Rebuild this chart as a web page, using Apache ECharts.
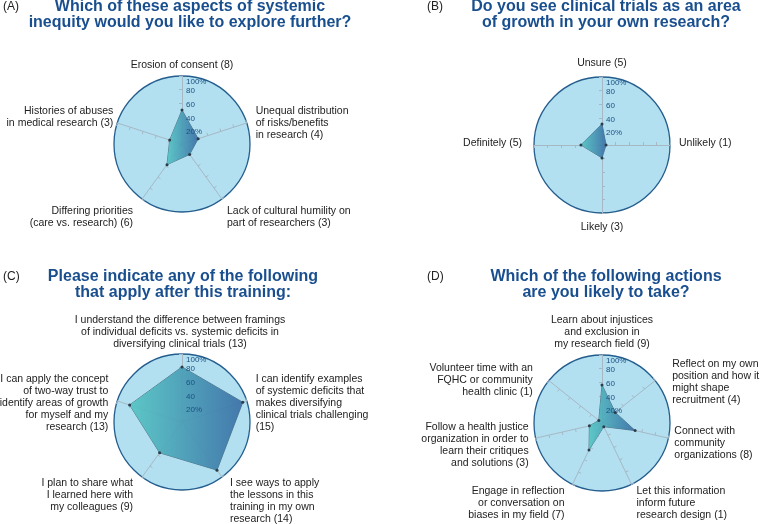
<!DOCTYPE html>
<html><head><meta charset="utf-8">
<script src="https://cdn.jsdelivr.net/npm/echarts@6/dist/echarts.min.js"></script>
<style>html,body{margin:0;padding:0;background:#fff}#c{width:760px;height:524px}</style>
</head><body><div id="c"></div>
<script>
// Panel titles
const panelTags = ['(A)', '(B)', '(C)', '(D)'];
const titles = [
  'Which of these aspects of systemic\ninequity would you like to explore further?',
  'Do you see clinical trials as an area\nof growth in your own research?',
  'Please indicate any of the following\nthat apply after this training:',
  'Which of the following actions\nare you likely to take?'
];
// Indicators listed from top, going counter-clockwise (ECharts order); values in % of respondents
const namesA = ['Erosion of consent (8)', 'Histories of abuses\nin medical research (3)', 'Differing priorities\n(care vs. research) (6)', 'Lack of cultural humility on\npart of researchers (3)', 'Unequal distribution\nof risks/benefits\nin research (4)'];
const valuesA = [50, 19, 37.5, 19, 25];
const namesB = ['Unsure (5)', 'Definitely (5)', 'Likely (3)', 'Unlikely (1)'];
const valuesB = [31, 31, 19, 6];
const namesC = ['I understand the difference between framings\nof individual deficits vs. systemic deficits in\ndiversifying clinical trials (13)', 'I can apply the concept\nof two-way trust to\nidentify areas of growth\nfor myself and my\nresearch (13)', 'I plan to share what\nI learned here with\nmy colleagues (9)', 'I see ways to apply\nthe lessons in this\ntraining in my own\nresearch (14)', 'I can identify examples\nof systemic deficits that\nmakes diversifying\nclinical trials challenging\n(15)'];
const valuesC = [81, 81, 56, 87.5, 94];
const namesD = ['Learn about injustices\nand exclusion in\nmy research field (9)', 'Volunteer time with an\nFQHC or community\nhealth clinic (1)', 'Follow a health justice\norganization in order to\nlearn their critiques\nand solutions (3)', 'Engage in reflection\nor conversation on\nbiases in my field (7)', 'Let this information\ninform future\nresearch design (1)', 'Connect with\ncommunity\norganizations (8)', 'Reflect on my own\nposition and how it\nmight shape\nrecruitment (4)'];
const valuesD = [56, 6, 19, 44, 6, 50, 25];
const tickLabels = {20: '20%', 40: '40', 60: '60', 80: '80'};
const maxTickLabel = '100%';

// ---- layout / style (not data) ----
const FONT = 'Liberation Sans, Arial, sans-serif';
const NAME_COLOR = '#222';
const TICK_COLOR = '#1d4f82';
// label placement per indicator: [align, verticalAlign, padding, vertical shift (px, for middle-aligned)]
const L = (a, v, p, s) => ({align: a, verticalAlign: v, padding: p, shift: s || 0});
const labelLayouts = [
  [L('center','bottom',[0,0,5,0]), L('right','middle',[0,4,0,0],-6), L('right','top',[6,9,0,0]), L('left','top',[6,0,0,5]), L('left','middle',[0,0,0,9],0)],
  [L('center','bottom',[0,0,8,0]), L('right','middle',[0,12,0,0],-2), L('center','top',[8,0,0,0]), L('left','middle',[0,0,0,9],-2)],
  [L('center','bottom',[0,4,4,0]), L('right','middle',[0,9,0,0],2.5), L('right','top',[0,9,0,0]), L('left','top',[0,0,0,8]), L('left','middle',[0,0,0,9],2.5)],
  [L('center','bottom',[0,0,5,0]), L('right','middle',[0,16,0,0],0), L('right','middle',[0,7,0,0],6.5), L('right','top',[1,8,0,0]), L('left','top',[1,0,0,5]), L('left','middle',[0,0,0,6],4.5), L('left','middle',[0,0,0,17],2)]
];
const panels = [
  {names: namesA, values: valuesA, center: [182, 144], title: [190, -1], tag: [3, 1]},
  {names: namesB, values: valuesB, center: [602, 145], title: [606, -1], tag: [427, 1]},
  {names: namesC, values: valuesC, center: [182, 422], title: [183, 269], tag: [3, 271]},
  {names: namesD, values: valuesD, center: [602, 423], title: [606, 269], tag: [427, 271]}
];

// rich styles: body line + spacer lines of various heights
const rich = {n: {color: NAME_COLOR, fontFamily: FONT, fontSize: 10.5, lineHeight: 12},
  t: {color: TICK_COLOR, fontFamily: FONT, fontSize: 8, lineHeight: 9}};
for (let k = 1; k <= 30; k++) rich['s' + k] = {fontSize: 1, lineHeight: k};

function nameFormatter(name, ind) {
  const s = Math.round(2 * (ind.shift || 0));
  if (!s) return name;
  const body = name.split('\n').map(l => '{n|' + l + '}').join('\n');
  return s > 0 ? '{s' + s + '| }\n' + body : body + '\n{s' + (-s) + '| }';
}
function tickFormatter(v) {
  const txt = tickLabels[v];
  return txt ? '{s3| }\n{t|' + txt + '}' : '';
}

const radars = [];
panels.forEach((p, pi) => {
  radars.push({
    center: p.center, radius: 68, shape: 'circle', splitNumber: 5, startAngle: 90, z: 0,
    indicator: p.names.map((n, i) => {
      const lay = labelLayouts[pi][i];
      return {name: n, max: 100, min: 0, shift: lay.shift,
        nameTextStyle: {align: lay.align, verticalAlign: lay.verticalAlign, padding: lay.padding}};
    }),
    axisName: {color: NAME_COLOR, fontFamily: FONT, fontSize: 10.5, lineHeight: 12, rich, formatter: nameFormatter},
    nameGap: 0,
    splitArea: {show: true, areaStyle: {color: ['#b2e0f1']}},
    splitLine: {show: true, lineStyle: {color: ['rgba(0,0,0,0)', 'rgba(0,0,0,0)', 'rgba(0,0,0,0)', 'rgba(0,0,0,0)', 'rgba(0,0,0,0)', '#235d8e'], width: 1.3}},
    axisLine: {show: true, lineStyle: {color: '#a6b8c4', width: 1}},
    axisTick: {show: true, length: 3, lineStyle: {color: '#a6b8c4'}},
    axisLabel: {show: false}
  });
});
// overlay radars carrying the percentage tick labels above the data polygons
function overlay(p, labelOpt) {
  return {
    center: p.center, radius: 68, shape: 'circle', splitNumber: 5, startAngle: 90, z: 10,
    indicator: p.names.map((n, i) => i === 0
      ? {name: '', max: 100, min: 0, axisLabel: {show: true}}
      : {name: '', max: 100, min: 0}),
    axisName: {show: false},
    splitArea: {show: false}, splitLine: {show: false}, axisLine: {show: false}, axisTick: {show: false},
    axisLabel: Object.assign({show: false, showMinLabel: false, hideOverlap: false, color: TICK_COLOR,
      fontFamily: FONT, fontSize: 8, margin: -4, align: 'left', rich}, labelOpt)
  };
}
panels.forEach((p) => {
  radars.push(overlay(p, {showMaxLabel: false, formatter: tickFormatter}));
  radars.push(overlay(p, {showMaxLabel: true, verticalAlign: 'top', padding: [2, 0, 0, 0],
    formatter: v => v === 100 ? maxTickLabel : ''}));
});

const grad = {type: 'linear', x: 0, y: 0, x2: 1, y2: 0,
  colorStops: [{offset: 0, color: '#55c5c3'}, {offset: 1, color: '#3a6fa6'}]};

const series = panels.map((p, i) => ({
  type: 'radar', radarIndex: i, silent: true,
  symbol: 'circle', symbolSize: 3,
  itemStyle: {color: '#2b3d4a'},
  lineStyle: {color: '#44606e', width: 0.8},
  areaStyle: {color: grad, opacity: 0.92},
  data: [{value: p.values}]
}));

const title = [];
panels.forEach((p, i) => {
  title.push({text: titles[i], left: p.title[0], top: p.title[1], textAlign: 'center', padding: 0,
    textStyle: {color: '#1a4f8f', fontFamily: FONT, fontSize: 16, fontWeight: 'bold', lineHeight: 16}});
  title.push({text: panelTags[i], left: p.tag[0], top: p.tag[1], padding: 0,
    textStyle: {color: '#222', fontFamily: FONT, fontSize: 12, fontWeight: 'normal'}});
});

const chart = echarts.init(document.getElementById('c'), null, {renderer: 'canvas'});
chart.setOption({animation: false, backgroundColor: '#fff', title, radar: radars, series});
</script>
</body></html>
